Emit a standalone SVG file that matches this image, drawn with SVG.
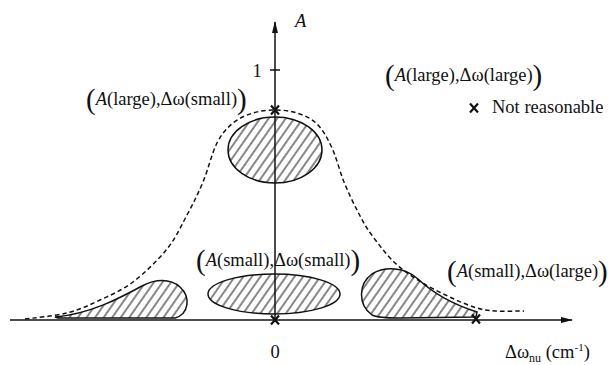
<svg xmlns="http://www.w3.org/2000/svg" width="608" height="365" viewBox="0 0 608 365">
<style>
text{font-family:"Liberation Serif","Times New Roman",serif;fill:#111}
.lbl{font-size:18.5px}
.cl{font-size:18.5px}
.par{font-size:29px}
.it{font-style:italic}
.ax{stroke:#111;stroke-width:1.5;fill:none}
.reg{stroke:#111;stroke-width:1.5;fill:url(#hatch)}
.dash{stroke:#111;stroke-width:1.5;fill:none;stroke-dasharray:4.5 3}
.xm{stroke:#111;stroke-width:2.2;fill:none}
</style>
<defs>
<pattern id="hatch" patternUnits="userSpaceOnUse" width="7" height="7" patternTransform="rotate(35)">
<rect width="7" height="7" fill="#fff"/>
<line x1="1" y1="0" x2="1" y2="7" stroke="#111" stroke-width="1"/>
</pattern>
<marker id="arr" markerWidth="12" markerHeight="8" refX="11" refY="4" orient="auto" markerUnits="userSpaceOnUse">
<path d="M0,1 L12,4 L0,7 Z" fill="#111"/>
</marker>
</defs>
<rect width="608" height="365" fill="#fff"/>

<g id="regions">
<ellipse id="r-large-small" class="reg" cx="275" cy="150" rx="47" ry="33"/>
<ellipse id="r-small-small" class="reg" cx="274" cy="294" rx="66" ry="20"/>
<path id="r-left" class="reg" d="M55,317 C90,314 120,298 142,286 C155,279 170,278 180,287 C191,297 189,314 175,318 L58,318 Z"/>
<path id="r-right" class="reg" d="M477,312 C455,305 435,295 418,279 C405,267 385,266 372,274 C358,284 358,305 372,315 C378,318 390,318 400,318 L476,317 Z"/>
</g>

<g id="curve">
<path class="dash" d="M25,319 C32,318 54.5,316.2 67,313 C79.5,309.8 89,305.2 100,300 C111,294.8 121.8,290.5 133,282 C144.2,273.5 158,260.2 167,249 C176,237.8 181,226.2 187,215 C193,203.8 198,194 203,182 C208,170 212,152.8 217,143 C222,133.2 227,128 233,123 C239,118 246,115.2 253,113 C260,110.8 267.7,110 275,110 C282.3,110 290,110.7 297,113 C304,115.3 311.2,118.2 317,124 C322.8,129.8 327.5,138.3 332,148 C336.5,157.7 339.7,171.3 344,182 C348.3,192.7 353.5,203.3 358,212 C362.5,220.7 365,225.7 371,234 C377,242.3 385.7,254 394,262 C402.3,270 411,275.8 421,282 C431,288.2 444.7,294.7 454,299 C463.3,303.3 470.2,306 477,308 C483.8,310 487.2,310.5 495,311 C502.8,311.5 519.2,311 524,311"/>
</g>

<g id="axes">
<line class="ax" x1="275" y1="322" x2="275" y2="22" marker-end="url(#arr)"/>
<line class="ax" x1="10" y1="320" x2="572" y2="320" marker-end="url(#arr)"/>
<line class="ax" x1="270" y1="70" x2="280" y2="70"/>
<text class="lbl" x="257" y="77" text-anchor="middle">1</text>
<text class="lbl it" x="295" y="27">A</text>
<text class="lbl" x="275" y="358" text-anchor="middle">0</text>
<text class="lbl" x="505" y="358">Δω<tspan font-size="12" dy="4">nu</tspan><tspan dy="-4"> (cm</tspan><tspan font-size="11" dy="-7">-1</tspan><tspan dy="7">)</tspan></text>
</g>

<g id="marks">
<path class="xm" d="M271,105.5 L279,114.5 M279,105.5 L271,114.5"/>
<path class="xm" d="M271,315.5 L279,324.5 M279,315.5 L271,324.5"/>
<path class="xm" d="M472,314.5 L480,323.5 M480,314.5 L472,323.5"/>
</g>

<g id="label-large-small">
<text class="cl" x="86" y="105"><tspan class="par" dy="3.5">(</tspan><tspan class="it" dy="-3.5">A</tspan>(large),Δω(small)<tspan class="par" dy="3.5">)</tspan></text>
</g>

<g id="label-large-large">
<text class="cl" x="385" y="81"><tspan class="par" dy="3.5">(</tspan><tspan class="it" dy="-3.5">A</tspan>(large),Δω(large)<tspan class="par" dy="3.5">)</tspan></text>
</g>

<g id="label-small-small">
<text class="cl" x="196" y="266"><tspan class="par" dy="3.5">(</tspan><tspan class="it" dy="-3.5">A</tspan>(small),Δω(small)<tspan class="par" dy="3.5">)</tspan></text>
</g>

<g id="label-small-large">
<text class="cl" x="447" y="277"><tspan class="par" dy="3.5">(</tspan><tspan class="it" dy="-3.5">A</tspan>(small),Δω(large)<tspan class="par" dy="3.5">)</tspan></text>
</g>

<g id="legend">
<path class="xm" d="M470,103.5 L478,112.5 M478,103.5 L470,112.5"/>
<text class="lbl" x="492" y="113">Not reasonable</text>
</g>
</svg>
